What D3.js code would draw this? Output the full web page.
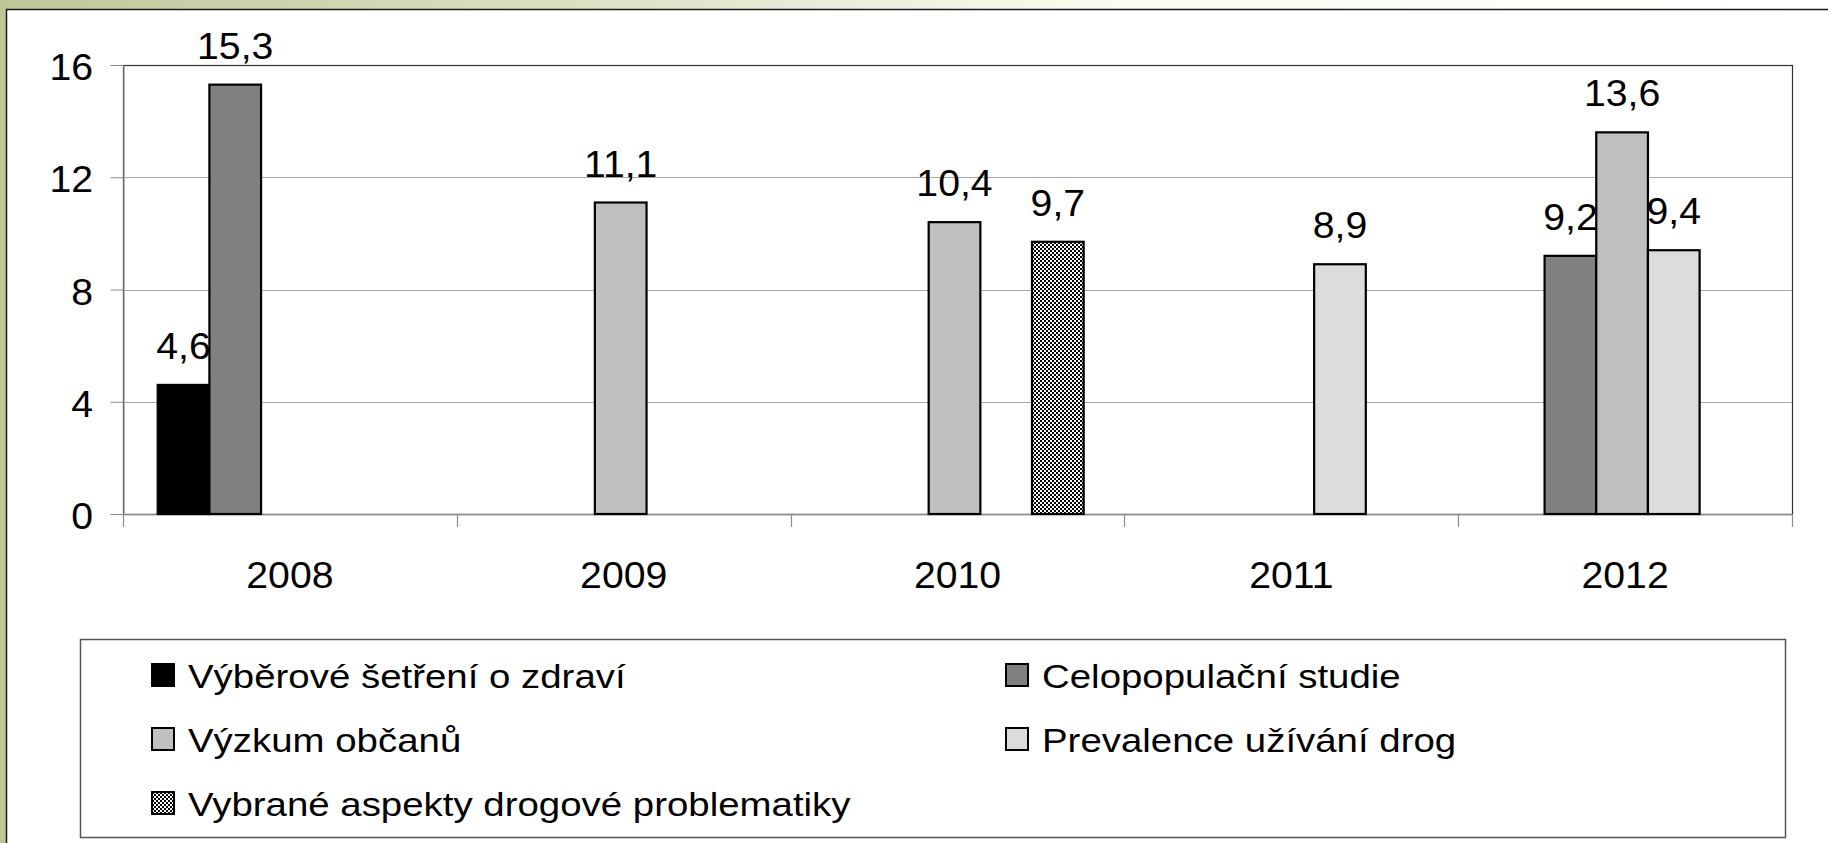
<!DOCTYPE html>
<html>
<head>
<meta charset="utf-8">
<script src="https://cdn.jsdelivr.net/npm/d3@7"></script>
<style>
  html, body { margin: 0; padding: 0; background: #ffffff; }
  svg { display: block; }
  text { font-family: "Liberation Sans", Arial, sans-serif; fill: #000; }
</style>
</head>
<body>
<svg id="chart" width="1828" height="843"></svg>
<script>
// ---- data ----
const years = ["2008", "2009", "2010", "2011", "2012"];
const seriesNames = [
  "Výběrové šetření o zdraví",
  "Celopopulační studie",
  "Výzkum občanů",
  "Prevalence užívání drog",
  "Vybrané aspekty drogové problematiky"
];
const vyberove      = [4.6, null, null, null, null];
const celopopulacni = [15.3, null, null, null, 9.2];
const vyzkum        = [null, 11.1, 10.4, null, 13.6];
const prevalence    = [null, null, null, 8.9, 9.4];
const vybrane       = [null, null, 9.7, null, null];
const yTicks = [0, 4, 8, 12, 16];

const seriesValues = [vyberove, celopopulacni, vyzkum, prevalence, vybrane];
const fills = ["#000000", "#808080", "#c0c0c0", "#dcdcdc", "url(#checker)"];

// ---- layout ----
const W = 1828, H = 843;
const plot = { left: 123, right: 1792, top: 65, bottom: 514 };
const axisFont = 37, axisSX = 1.06;
const legFont = 34, legSX = 1.13;

const svg = d3.select("#chart");
const defs = svg.append("defs");

const grad = defs.append("linearGradient").attr("id", "topgrad")
  .attr("x1", "0").attr("x2", "1").attr("y1", "0").attr("y2", "0");
grad.append("stop").attr("offset", "0").attr("stop-color", "#bfc799");
grad.append("stop").attr("offset", "0.35").attr("stop-color", "#dfe3c8");
grad.append("stop").attr("offset", "0.6").attr("stop-color", "#fbfbf1");
grad.append("stop").attr("offset", "1").attr("stop-color", "#ffffff");

const pat = defs.append("pattern").attr("id", "checker")
  .attr("patternUnits", "userSpaceOnUse").attr("width", 4).attr("height", 4);
pat.append("rect").attr("width", 4).attr("height", 4).attr("fill", "#ffffff");
pat.append("rect").attr("x", 0).attr("y", 0).attr("width", 2).attr("height", 2).attr("fill", "#000");
pat.append("rect").attr("x", 2).attr("y", 2).attr("width", 2).attr("height", 2).attr("fill", "#000");

svg.append("rect").attr("x", 0).attr("y", 0).attr("width", W).attr("height", 10).attr("fill", "url(#topgrad)");
svg.append("rect").attr("x", 0).attr("y", 0).attr("width", 7).attr("height", H).attr("fill", "#bdc596");
svg.append("rect").attr("x", 6.5).attr("y", 9.5).attr("width", W).attr("height", H)
  .attr("fill", "#ffffff").attr("stroke", "#1a1a1a").attr("stroke-width", 1.5);

// ---- scales ----
const x0 = d3.scaleBand().domain(years).range([plot.left, plot.right]).padding(0);
const x1 = d3.scaleBand().domain(d3.range(seriesNames.length))
  .range([0, x0.bandwidth()]).paddingInner(0).paddingOuter(0.73);
const groupShift = -3;
const y = d3.scaleLinear().domain([0, 16]).range([plot.bottom, plot.top]);

const fmt = v => d3.format(".1f")(v).replace(".", ",");

function sText(sel, x, yy, sx) {
  sel.attr("transform", `translate(${x},${yy}) scale(${sx},1)`);
  return sel;
}

// gridlines
const g = svg.append("g");
g.selectAll("line.grid").data(yTicks.filter(t => t > 0)).enter().append("line")
  .attr("x1", plot.left).attr("x2", plot.right)
  .attr("y1", d => Math.round(y(d)) + 0.5).attr("y2", d => Math.round(y(d)) + 0.5)
  .attr("stroke", "#a6a6a6").attr("stroke-width", 1);

g.append("rect").attr("x", plot.left + 0.5).attr("y", Math.round(plot.top) + 0.5)
  .attr("width", plot.right - plot.left).attr("height", plot.bottom - plot.top)
  .attr("fill", "none").attr("stroke", "#333").attr("stroke-width", 1.2);

// y axis
const yAxis = d3.axisLeft(y).tickValues(yTicks).tickSize(13).tickFormat("");
const yAx = svg.append("g").attr("transform", `translate(${plot.left + 0.5},0)`).call(yAxis);
yAx.select(".domain").attr("stroke", "#8c8c8c");
yAx.selectAll(".tick line").attr("stroke", "#8c8c8c");
svg.append("g").selectAll("text").data(yTicks).enter().append("text")
  .attr("text-anchor", "end").attr("dominant-baseline", "central")
  .style("font-size", axisFont + "px")
  .text(d => d)
  .each(function(d) { sText(d3.select(this), 93, y(d) + 2, axisSX); });

// x axis line + boundary ticks
const xa = svg.append("g");
xa.append("line").attr("x1", plot.left).attr("x2", plot.right)
  .attr("y1", plot.bottom + 0.5).attr("y2", plot.bottom + 0.5)
  .attr("stroke", "#8c8c8c").attr("stroke-width", 1.5);
const bounds = years.map(d => x0(d)).concat([x0(years[years.length - 1]) + x0.bandwidth()]);
xa.selectAll("line.tk").data(bounds).enter().append("line")
  .attr("x1", d => Math.round(d) + 0.5).attr("x2", d => Math.round(d) + 0.5)
  .attr("y1", plot.bottom).attr("y2", plot.bottom + 13)
  .attr("stroke", "#8c8c8c").attr("stroke-width", 1.2);
const xAxis = d3.axisBottom(x0).tickSize(0).tickPadding(0);
const xAx = svg.append("g").attr("transform", `translate(0,${plot.bottom})`).call(xAxis);
xAx.select(".domain").remove();
xAx.selectAll(".tick text")
  .attr("y", 0).attr("dy", 0)
  .style("font-size", axisFont + "px").style("font-family", '"Liberation Sans", Arial, sans-serif')
  .attr("fill", "#000")
  .attr("transform", `translate(0,74) scale(${axisSX},1)`);

// bars data
const barData = [];
seriesValues.forEach((arr, si) => {
  arr.forEach((v, yi) => {
    if (v !== null) barData.push({ s: si, year: years[yi], v: v });
  });
});

// labels first (bars drawn over them, as in the reference)
svg.append("g").selectAll("text").data(barData).enter().append("text")
  .attr("text-anchor", "middle")
  .style("font-size", axisFont + "px")
  .text(d => fmt(d.v))
  .each(function(d) {
    const cx = x0(d.year) + x1(d.s) + groupShift + x1.bandwidth() / 2;
    sText(d3.select(this), cx, y(d.v) - 26, axisSX);
  });

svg.append("g").selectAll("rect").data(barData).enter().append("rect")
  .attr("x", d => x0(d.year) + x1(d.s) + groupShift)
  .attr("y", d => y(d.v))
  .attr("width", x1.bandwidth())
  .attr("height", d => y(0) - y(d.v))
  .attr("fill", d => fills[d.s])
  .attr("stroke", "#000").attr("stroke-width", 2.2);

// ---- legend ----
const leg = { x: 80, y: 639, w: 1705, h: 198 };
svg.append("rect").attr("x", leg.x + 0.5).attr("y", leg.y + 0.5)
  .attr("width", leg.w).attr("height", leg.h)
  .attr("fill", "#fff").attr("stroke", "#555").attr("stroke-width", 1.5);
const colX = [152, 1006];
const rowY = [675, 739, 803];
const legItems = seriesNames.map((n, i) => ({ name: n, i: i, col: i % 2, row: Math.floor(i / 2) }));
const li = svg.append("g").selectAll("g").data(legItems).enter().append("g");
li.append("rect")
  .attr("x", d => colX[d.col]).attr("y", d => rowY[d.row] - 11)
  .attr("width", 22).attr("height", 22)
  .attr("fill", d => fills[d.i]).attr("stroke", "#000").attr("stroke-width", 2);
li.append("text")
  .style("font-size", legFont + "px")
  .attr("dominant-baseline", "central")
  .text(d => d.name)
  .each(function(d) { sText(d3.select(this), colX[d.col] + 36, rowY[d.row] + 1, legSX); });
</script>
</body>
</html>
